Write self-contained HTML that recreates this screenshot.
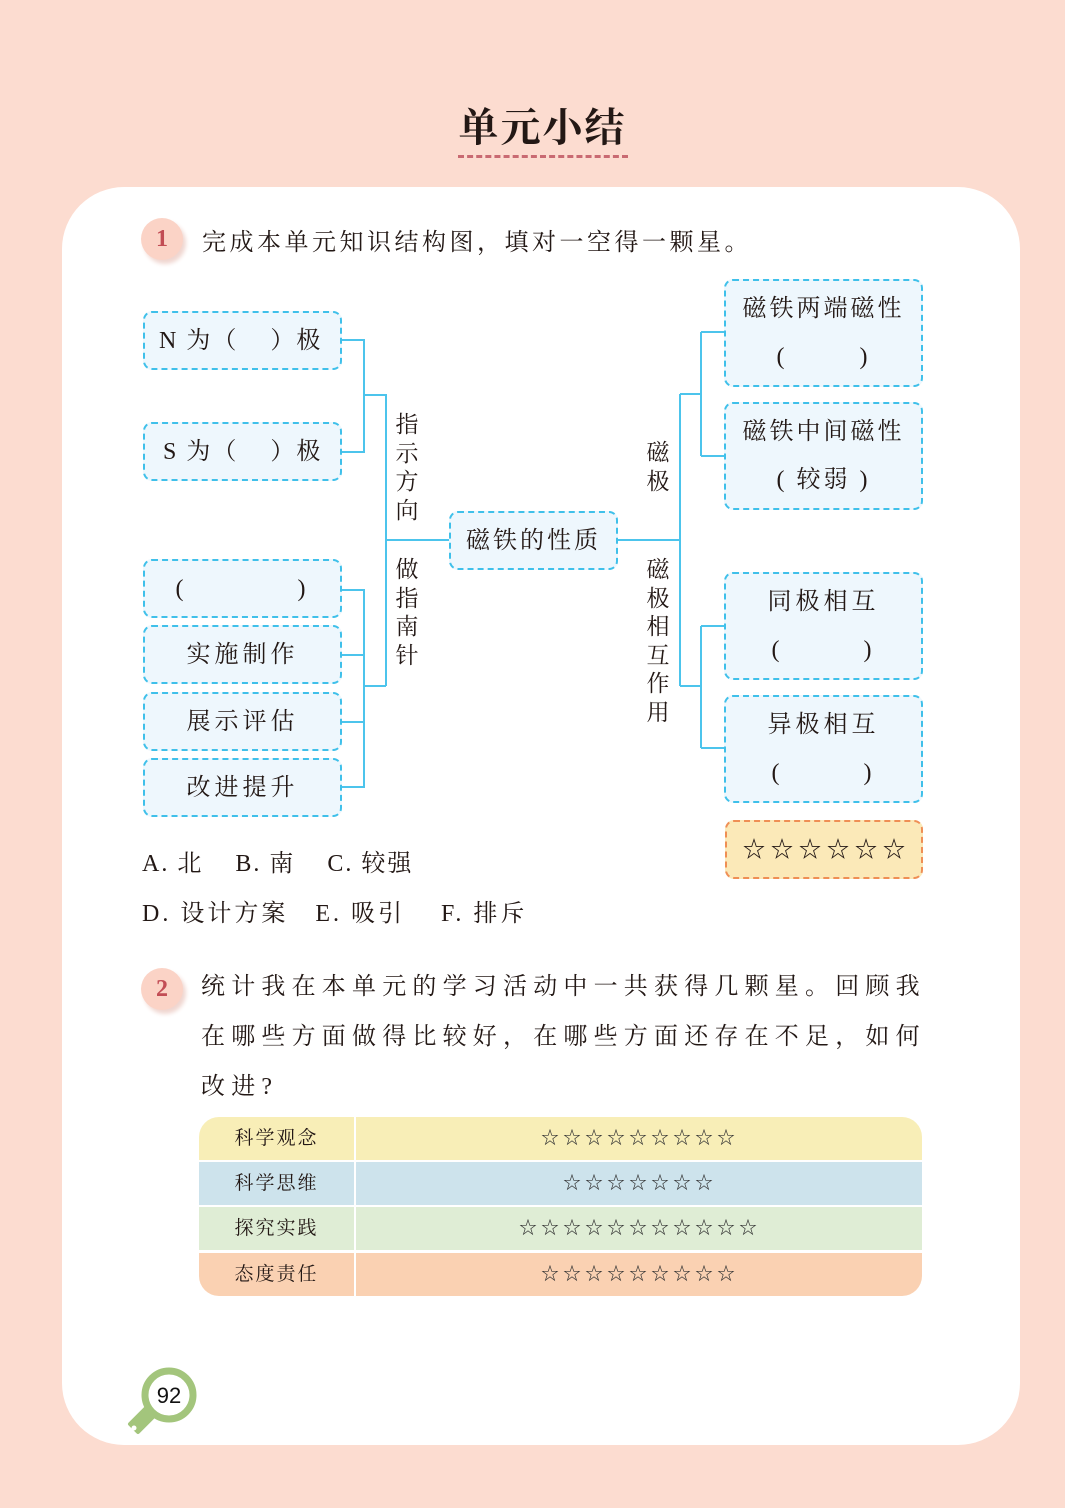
<!DOCTYPE html>
<html><head><meta charset="utf-8"><style>
*{margin:0;padding:0;box-sizing:border-box}
body{width:1065px;height:1508px;background:#fcdcd0;position:relative;overflow:hidden;font-family:"Liberation Serif","Noto Serif CJK SC",serif;color:#231815}
.a{position:absolute}
.card{left:62px;top:187px;width:958px;height:1258px;background:#fff;border-radius:62px}
.b{position:absolute;border:2px dashed #3fc0ea;background:#eef7fd;border-radius:9px;display:flex;align-items:center;justify-content:center;font-size:24px;letter-spacing:4px;text-align:center;line-height:50px}
.num{position:absolute;width:42px;height:42px;border-radius:50%;background:#fbd3c6;color:#c24d55;font-weight:bold;font-size:24px;text-align:center;line-height:42px;box-shadow:3px 4px 4px #f0d6d0}
.v{position:absolute;font-size:23px;line-height:28.5px;width:26px;text-align:center}
.t{position:absolute;font-size:24px;letter-spacing:5px}
.row{position:absolute;left:199px;width:723px;height:43px;font-size:19px;line-height:43px}
.row .l{position:absolute;left:0;width:157px;text-align:center;letter-spacing:2px;border-right:2px solid #fff;height:43px}
.row .r{position:absolute;left:159px;right:0;text-align:center;letter-spacing:4px;font-size:18px;color:#333}
</style></head><body>
<div class="a" style="left:10px;top:96px;width:1065px;text-align:center;font-size:40px;font-weight:bold;letter-spacing:2px">单元小结</div>
<div class="a" style="left:458px;top:155px;width:170px;border-top:3px dashed #c96a72"></div>
<div class="a card"></div>
<div class="num" style="left:141px;top:218px">1</div>
<div class="t" style="left:202px;top:222px;letter-spacing:3.5px">完成本单元知识结构图，填对一空得一颗星。</div>

<svg class="a" style="left:0;top:0" width="1065" height="1508">
<g stroke="#4cc4ec" stroke-width="2" fill="none">
<path d="M342 340H364V452H342M364 395H386V686M386 540H449"/>
<path d="M342 590H364V787H342M342 655H364M342 722H364M364 686H386"/>
<path d="M618 540H680M680 394V686M680 394H701M701 332V456M701 332H724M701 456H724M680 686H701M701 626V748M701 626H724M701 748H724"/>
</g></svg>

<div class="b" style="left:143px;top:311px;width:199px;height:59px;justify-content:flex-start;padding-left:14px;letter-spacing:2px">N 为（&nbsp;&nbsp;&nbsp;&nbsp;）极</div>
<div class="b" style="left:143px;top:422px;width:199px;height:59px;justify-content:flex-start;padding-left:18px;letter-spacing:2px">S 为（&nbsp;&nbsp;&nbsp;&nbsp;）极</div>
<div class="b" style="left:143px;top:559px;width:199px;height:59px">(&nbsp;&nbsp;&nbsp;&nbsp;&nbsp;&nbsp;&nbsp;&nbsp;&nbsp;&nbsp;&nbsp;)</div>
<div class="b" style="left:143px;top:625px;width:199px;height:59px">实施制作</div>
<div class="b" style="left:143px;top:692px;width:199px;height:59px">展示评估</div>
<div class="b" style="left:143px;top:758px;width:199px;height:59px">改进提升</div>
<div class="b" style="left:449px;top:511px;width:169px;height:59px;letter-spacing:3px">磁铁的性质</div>
<div class="b" style="left:724px;top:279px;width:199px;height:108px;line-height:48px;letter-spacing:3px">磁铁两端磁性<br>(&nbsp;&nbsp;&nbsp;&nbsp;&nbsp;&nbsp;&nbsp;&nbsp;)</div>
<div class="b" style="left:724px;top:402px;width:199px;height:108px;line-height:48px;letter-spacing:3px">磁铁中间磁性<br>(&nbsp;较弱&nbsp;)</div>
<div class="b" style="left:724px;top:572px;width:199px;height:108px;line-height:48px;letter-spacing:4px">同极相互<br>(&nbsp;&nbsp;&nbsp;&nbsp;&nbsp;&nbsp;&nbsp;&nbsp;)</div>
<div class="b" style="left:724px;top:695px;width:199px;height:108px;line-height:48px;letter-spacing:4px">异极相互<br>(&nbsp;&nbsp;&nbsp;&nbsp;&nbsp;&nbsp;&nbsp;&nbsp;)</div>
<div class="b" style="left:725px;top:820px;width:198px;height:59px;background:#fbe9b8;border-color:#ef8f55;letter-spacing:5px;font-size:23px;padding-left:5px">☆☆☆☆☆☆</div>

<div class="v" style="left:394px;top:411px">指<br>示<br>方<br>向</div>
<div class="v" style="left:394px;top:556px">做<br>指<br>南<br>针</div>
<div class="v" style="left:645px;top:439px">磁<br>极</div>
<div class="v" style="left:645px;top:556px">磁<br>极<br>相<br>互<br>作<br>用</div>

<div class="t" style="left:142px;top:843px;letter-spacing:2px">A. 北&nbsp;&nbsp;&nbsp; B. 南&nbsp;&nbsp;&nbsp; C. 较强</div>
<div class="t" style="left:142px;top:893px;letter-spacing:3px">D. 设计方案&nbsp;&nbsp; E. 吸引&nbsp;&nbsp;&nbsp; F. 排斥</div>

<div class="num" style="left:141px;top:968px">2</div>
<div class="t" style="left:201px;top:962px;width:740px;line-height:50px;letter-spacing:6.2px">统计我在本单元的学习活动中一共获得几颗星。回顾我在哪些方面做得比较好，在哪些方面还存在不足，如何改进?</div>

<div class="row" style="top:1117px;background:#f8eeb7;border-radius:20px 20px 0 0"><div class="l">科学观念</div><div class="r">☆☆☆☆☆☆☆☆☆</div></div>
<div class="row" style="top:1162px;background:#cde3ec"><div class="l">科学思维</div><div class="r">☆☆☆☆☆☆☆</div></div>
<div class="row" style="top:1207px;background:#dfedd5"><div class="l">探究实践</div><div class="r">☆☆☆☆☆☆☆☆☆☆☆</div></div>
<div class="row" style="top:1253px;background:#fad1b2;border-radius:0 0 20px 20px"><div class="l">态度责任</div><div class="r">☆☆☆☆☆☆☆☆☆</div></div>

<svg class="a" style="left:120px;top:1360px" width="90" height="85">
<path d="M26 48 L10 64 L18 72 L34 56Z" fill="#a3c57c" stroke="#a3c57c" stroke-width="4" stroke-linejoin="round"/>
<circle cx="14" cy="68" r="2.5" fill="#fff"/>
<circle cx="49" cy="35" r="24" fill="#fff" stroke="#a3c57c" stroke-width="7"/>
<text x="49" y="43" font-family="Liberation Sans" font-size="22" text-anchor="middle" fill="#111">92</text>
</svg>
</body></html>
